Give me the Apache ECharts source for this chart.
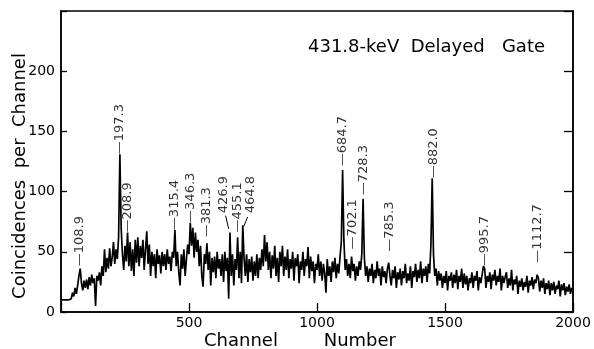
<!DOCTYPE html>
<html>
<head>
<meta charset="utf-8">
<script src="https://cdn.jsdelivr.net/npm/echarts@6/dist/echarts.min.js"></script>
<style>
html,body{margin:0;padding:0;background:#fff;}
#chart{width:594px;height:349px;}
</style>
</head>
<body>
<div id="chart"></div>
<script>
/* 每点间隔 5 道 */
const channelStep = 5;

/* 计数，每行 100 道 (20 点) */
const countRows = [
    [10,10,10,10,10,10,10,10,11,16,13,20,15,22,30,36,24,18,26,20],
    [27,19,29,22,31,24,28,5,30,26,33,22,38,30,52,33,45,36,53,38],
    [45,58,40,52,44,62,131,70,48,35,55,42,66,38,58,34,52,30,60,41],
    [62,38,55,45,60,35,52,67,40,56,30,50,38,48,28,52,40,47,32,50],
    [38,48,35,52,40,46,34,50,45,68,38,50,33,22,48,36,52,30,44,56],
    [48,74,55,70,45,66,50,60,38,55,30,21,48,40,57,35,50,22,45,33],
    [46,28,50,36,44,30,48,25,50,34,45,11,66,30,48,22,44,35,62,28],
    [50,24,72,45,30,48,25,44,33,46,26,42,30,48,28,45,35,52,38,64],
    [42,58,35,50,28,47,36,55,30,45,25,50,38,55,30,46,35,52,28,44],
    [36,50,26,45,38,48,24,42,35,50,30,44,38,54,28,46,34,42,24,40],
    [35,48,30,42,26,40,32,16,44,30,38,25,42,33,45,28,40,32,46,58],
    [118,60,35,44,30,40,28,46,34,40,26,38,30,42,35,48,94,45,30,38],
    [25,36,30,40,24,35,28,42,30,36,22,38,29,34,24,36,41,30,22,35],
    [28,38,20,33,27,36,22,34,28,40,24,32,26,38,20,34,29,40,25,35],
    [28,42,24,36,30,38,25,40,32,56,111,48,30,36,22,34,26,32,20,30],
    [24,34,18,30,26,33,20,31,24,35,19,30,25,36,20,32,23,30,18,28],
    [24,33,20,30,26,34,18,29,24,31,38,36,20,30,25,33,19,31,26,35],
    [22,30,25,36,18,30,24,29,33,20,28,22,35,18,27,23,30,15,26,21],
    [28,18,25,21,30,16,26,22,29,19,27,24,31,28,17,26,20,28,15,24],
    [19,26,14,24,18,25,15,22,19,26,13,23,18,24,14,21,17,23,15,20]
];
const lastCount = 17;

/* 峰标注 */
const peakLabels = [
    "—108.9","—197.3","—208.9","—315.4","—346.3","—381.3","426.9","—455.1",
    "464.8","—684.7","—702.1","—728.3","—785.3","—882.0","—995.7","—1112.7"
];
const peakChannels = [74,230,261,444,507,569,635,690,741,1099,1138,1181,1283,1454,1653,1860];
const peakTops = [38,131,66,68,74,62,82,66,82,121,52,97,50,111,38,41];

/* 斜引线 [道1, 值1, 道2, 值2] */
const leaders = [
    [643,80,655,69],
    [729,79,714,71]
];

/* 坐标刻度 */
const xTicks = [0,2000,500];
const yTicks = [0,250,50];

/* 组合数据 */
const spectrum = [];
countRows.forEach((row, r) => {
    row.forEach((v, i) => {
        spectrum.push([r * 100 + i * channelStep, v]);
    });
});
spectrum.push([2000, lastCount]);

const labelPoints = peakChannels.map((ch, i) => {
    return {value:[ch, peakTops[i]], name:peakLabels[i]};
});

const chart = echarts.init(document.getElementById("chart"));

const font = '"DejaVu Sans", sans-serif';

chart.setOption({
    animation:false,
    grid:{
        left:61, right:21, top:11, bottom:37,
        show:true, borderColor:"#000", borderWidth:1.5
    },
    xAxis:{
        type:"value",
        min:xTicks[0], max:xTicks[1], interval:xTicks[2],
        axisLine:{lineStyle:{color:"#000", width:1.5}},
        axisTick:{inside:true, length:9, lineStyle:{color:"#000", width:1.3}},
        axisLabel:{
            color:"#000", fontSize:14, fontFamily:font, margin:4,
            formatter:v => v === 0 ? "" : v
        },
        splitLine:{show:false}
    },
    yAxis:[
        {
            type:"value",
            min:yTicks[0], max:yTicks[1], interval:yTicks[2],
            axisLine:{show:true, lineStyle:{color:"#000", width:1.5}},
            axisTick:{show:true, inside:true, length:6, lineStyle:{color:"#000", width:1.3}},
            axisLabel:{
                color:"#000", fontSize:14, fontFamily:font, margin:6,
                formatter:v => v === 250 ? "" : v
            },
            splitLine:{show:false}
        },
        {
            type:"value", position:"right",
            min:yTicks[0], max:yTicks[1], interval:yTicks[2],
            axisLine:{show:true, lineStyle:{color:"#000", width:1.5}},
            axisTick:{show:true, inside:true, length:9, lineStyle:{color:"#000", width:1.3}},
            axisLabel:{show:false},
            splitLine:{show:false}
        }
    ],
    series:[
        {
            type:"line",
            data:spectrum,
            showSymbol:false,
            lineStyle:{color:"#000", width:1.7},
            z:3
        },
        {
            type:"scatter",
            data:labelPoints,
            symbolSize:1,
            itemStyle:{color:"rgba(0,0,0,0)"},
            label:{
                show:true,
                position:"inside",
                rotate:90,
                align:"left",
                verticalAlign:"middle",
                formatter:p => p.name,
                color:"#000",
                fontSize:13,
                fontFamily:font
            },
            labelLayout:{hideOverlap:false},
            markLine:{
                silent:true,
                symbol:"none",
                label:{show:false},
                lineStyle:{color:"#000", width:1, type:"solid"},
                data:leaders.map(l => [
                    {coord:[l[0], l[1]]},
                    {coord:[l[2], l[3]]}
                ])
            },
            z:4
        }
    ],
    graphic:[
        {
            type:"text",
            x:20, y:176,
            rotation:Math.PI / 2,
            style:{
                text:"Coincidences  per  Channel",
                align:"center", verticalAlign:"middle",
                font:'18px "DejaVu Sans"', fill:"#000"
            }
        },
        {
            type:"text",
            x:300, y:341,
            style:{
                text:"Channel        Number",
                align:"center", verticalAlign:"middle",
                font:'18px "DejaVu Sans"', fill:"#000"
            }
        },
        {
            type:"text",
            x:308, y:47,
            style:{
                text:"431.8-keV  Delayed   Gate",
                align:"left", verticalAlign:"middle",
                font:'18px "DejaVu Sans"', fill:"#000"
            }
        }
    ]
});
</script>
</body>
</html>
